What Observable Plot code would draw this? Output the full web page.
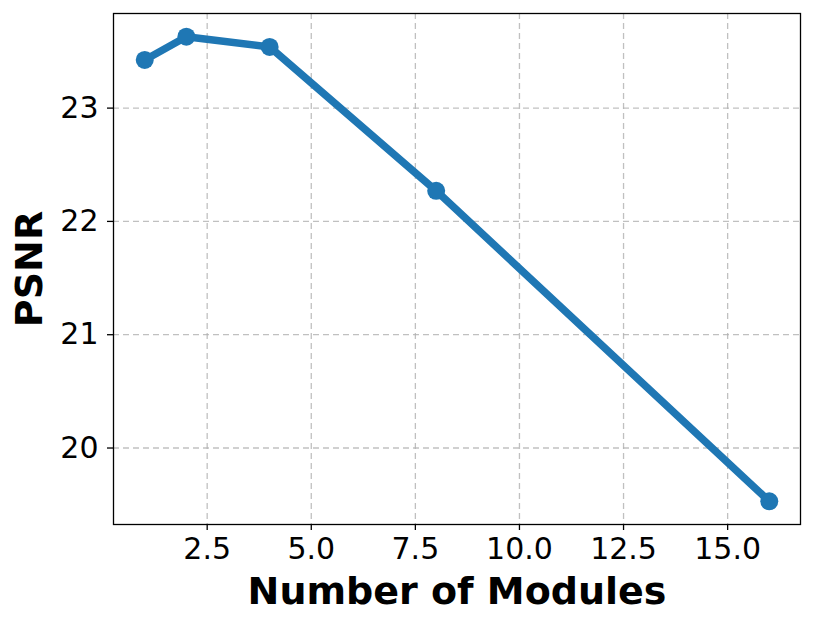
<!DOCTYPE html>
<html><head><meta charset="utf-8">
<script src="https://cdn.jsdelivr.net/npm/d3@7"></script>
<script src="https://cdn.jsdelivr.net/npm/@observablehq/plot@0.6"></script>
<style>body{margin:0;background:#fff;} svg{display:block;}</style>
</head><body><div id="chart"></div>
<script>
const modules = [1, 2, 4, 8, 16];
const psnr = [23.425, 23.63, 23.54, 22.27, 19.53];
const xTicks = [2.5, 5.0, 7.5, 10.0, 12.5, 15.0];
const yTicks = [20, 21, 22, 23];
const xLabel = "Number of Modules";
const yLabel = "PSNR";

const data = modules.map((m, i) => ({m, v: psnr[i]}));
const font = "DejaVu Sans, sans-serif";

const chart = Plot.plot({
  width: 813, height: 628,
  marginLeft: 113, marginRight: 13, marginTop: 13, marginBottom: 104,
  style: {fontFamily: font, background: "#fff", color: "#000"},
  x: {domain: [0.25, 16.75]},
  y: {domain: [19.325, 23.835]},
  marks: [
    Plot.gridX(xTicks, {stroke: "#b0b0b0", strokeOpacity: 0.8, strokeDasharray: "6,4", strokeWidth: 1.3}),
    Plot.gridY(yTicks, {stroke: "#b0b0b0", strokeOpacity: 0.8, strokeDasharray: "6,4", strokeWidth: 1.3}),
    Plot.axisX(xTicks, {tickFormat: d3.format(".1f"), fontSize: 30, tickSize: 6, tickPadding: 7, label: null, strokeWidth: 1.3}),
    Plot.axisY(yTicks, {tickFormat: d3.format("d"), fontSize: 30, tickSize: 6, tickPadding: 9, label: null, strokeWidth: 1.3}),
    Plot.line(data, {x: "m", y: "v", stroke: "#1f77b4", strokeWidth: 7.5, strokeLinejoin: "round", strokeLinecap: "round"}),
    Plot.dot(data, {x: "m", y: "v", r: 9, fill: "#1f77b4", stroke: null}),
    Plot.frame({stroke: "#000", strokeWidth: 1.3}),
    Plot.text([xLabel], {frameAnchor: "bottom", dy: 79, fontSize: 38, fontWeight: "bold", fill: "#000"}),
    Plot.text([yLabel], {frameAnchor: "left", textAnchor: "middle", lineAnchor: "middle", dx: -84, rotate: -90, fontSize: 38, fontWeight: "bold", fill: "#000"})
  ]
});
document.getElementById("chart").appendChild(chart);
</script></body></html>
